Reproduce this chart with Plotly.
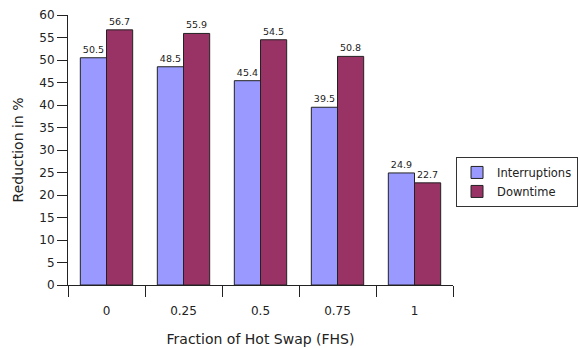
import plotly.graph_objects as go

categories = ["0", "0.25", "0.5", "0.75", "1"]
interruptions = [50.5, 48.5, 45.4, 39.5, 24.9]
downtime = [56.7, 55.9, 54.5, 50.8, 22.7]

fig = go.Figure()
fig.add_trace(go.Bar(
    x=categories, y=interruptions, name="Interruptions",
    marker=dict(color="#9999FF", line=dict(color="#222222", width=1)),
    text=[f"{v}" for v in interruptions], textposition="outside",
    textfont=dict(size=9.5, color="#222222"), cliponaxis=False,
))
fig.add_trace(go.Bar(
    x=categories, y=downtime, name="Downtime",
    marker=dict(color="#993366", line=dict(color="#222222", width=1)),
    text=[f"{v}" for v in downtime], textposition="outside",
    textfont=dict(size=9.5, color="#222222"), cliponaxis=False,
))

fig.update_layout(
    width=580, height=348,
    margin=dict(l=68, r=127, t=15, b=63),
    paper_bgcolor="white", plot_bgcolor="white",
    font=dict(family="DejaVu Sans", size=12, color="#222222"),
    barmode="group", bargap=0.32, bargroupgap=0,
    showlegend=True,
    legend=dict(xref="container", yref="container", x=0.9966, y=0.549,
                xanchor="right", yanchor="top",
                bordercolor="#333333", borderwidth=1, itemwidth=30,
                font=dict(size=11.5), tracegroupgap=2),
    uniformtext=dict(minsize=9, mode="show"),
)
fig.update_xaxes(
    type="category", showgrid=False, showline=True, linecolor="#222222", linewidth=1,
    ticks="outside", tickson="boundaries", ticklen=11, tickcolor="#222222",
    ticklabelstandoff=15, tickfont=dict(size=12), automargin=False,
    title=dict(text="Fraction of Hot Swap (FHS)", font=dict(size=14), standoff=16),
)
fig.update_yaxes(
    range=[0, 60], dtick=5, showgrid=False, showline=True, linecolor="#222222", linewidth=1,
    ticks="outside", ticklen=10, tickcolor="#222222", zeroline=False, tickfont=dict(size=12),
    automargin=False,
    title=dict(text="Reduction in %", font=dict(size=14), standoff=12),
)

fig.write_html("out.html")
